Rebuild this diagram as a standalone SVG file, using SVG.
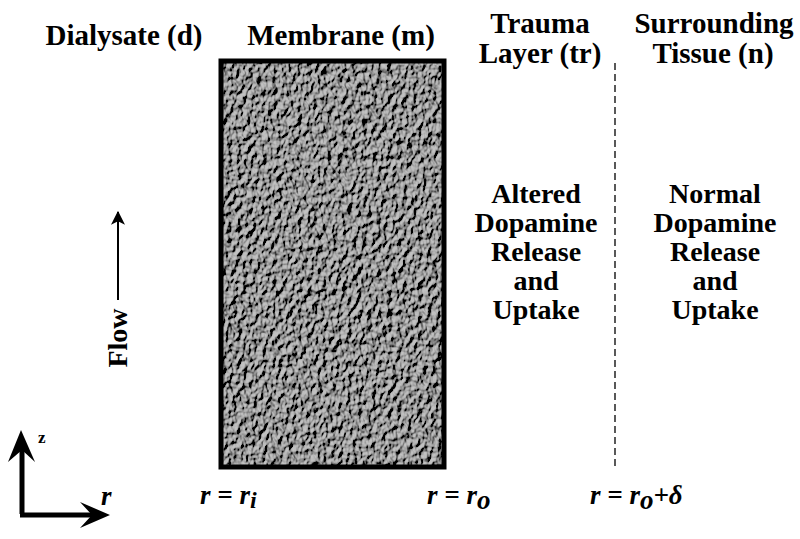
<svg xmlns="http://www.w3.org/2000/svg" width="800" height="539" viewBox="0 0 800 539">
<style>
.h{font-family:"Liberation Serif","Times New Roman",serif;font-weight:bold;font-size:29px;fill:#000;text-anchor:middle}
.b{font-family:"Liberation Serif","Times New Roman",serif;font-weight:bold;font-size:28px;fill:#000;text-anchor:middle}
.m{font-family:"Liberation Serif","Times New Roman",serif;font-weight:bold;font-style:italic;font-size:27px;fill:#000}
</style>
<defs>
<filter id="tex" x="0" y="0" width="100%" height="100%">
<feTurbulence type="fractalNoise" baseFrequency="0.2 0.14" numOctaves="2" seed="7" result="n"/>
<feColorMatrix in="n" type="matrix" values="0 0 0 0 0  0 0 0 0 0  0 0 0 0 0  1 0 0 0 0" result="a"/>
<feDiffuseLighting in="a" surfaceScale="5" lighting-color="#c4c4c4" result="l"><feDistantLight azimuth="225" elevation="45"/></feDiffuseLighting>
<feComponentTransfer in="l" result="c"><feFuncR type="linear" slope="1.2" intercept="-0.12"/><feFuncG type="linear" slope="1.2" intercept="-0.12"/><feFuncB type="linear" slope="1.2" intercept="-0.12"/></feComponentTransfer>
<feComposite in="c" in2="SourceGraphic" operator="in"/>
</filter>
<marker id="ahb" viewBox="0 0 12 12" refX="11" refY="6" markerWidth="14" markerHeight="14" markerUnits="userSpaceOnUse" orient="auto"><path d="M0,0 L12,6 L0,12 L3,6 Z" fill="#000"/></marker>
</defs>
<rect width="800" height="539" fill="#fff"/>
<g id="labels">
<text class="h" x="124" y="45">Dialysate (d)</text>
<text class="h" x="341" y="45">Membrane (m)</text>
<text class="h" x="540" y="33">Trauma</text>
<text class="h" x="540" y="63">Layer (tr)</text>
<text class="h" x="714" y="33">Surrounding</text>
<text class="h" x="713" y="63">Tissue (n)</text>
</g>
<g id="membrane">
<rect x="221" y="61" width="223" height="406" fill="#888" filter="url(#tex)"/>
<rect x="221" y="61" width="223" height="406" fill="none" stroke="#000" stroke-width="5"/>
</g>
<g id="trauma">
<text class="b" x="536" y="203">Altered</text>
<text class="b" x="536" y="232">Dopamine</text>
<text class="b" x="536" y="261">Release</text>
<text class="b" x="536" y="290">and</text>
<text class="b" x="536" y="319">Uptake</text>
</g>
<g id="tissue">
<text class="b" x="715" y="203">Normal</text>
<text class="b" x="715" y="232">Dopamine</text>
<text class="b" x="715" y="261">Release</text>
<text class="b" x="715" y="290">and</text>
<text class="b" x="715" y="319">Uptake</text>
</g>
<g id="connectors">
<line x1="615" y1="63" x2="615" y2="470" stroke="#000" stroke-width="1.3" stroke-dasharray="7,4"/>
<line x1="118" y1="300" x2="118" y2="212" stroke="#000" stroke-width="2" marker-end="url(#ahb)"/>
<path d="M22,514 L22,440" stroke="#000" stroke-width="5" fill="none"/>
<path d="M20,515 L100,515" stroke="#000" stroke-width="5" fill="none"/>
<path d="M21,430 L35,462 L22,450 L8,462 Z" fill="#000"/>
<path d="M110,515 L80,502 L92,515 L80,528 Z" fill="#000"/>
</g>
<g id="flow">
<text class="b" x="0" y="0" font-size="26" transform="translate(127,338) rotate(-90)">Flow</text>
</g>
<g id="axes-labels">
<text x="38" y="443" font-family="Liberation Serif,serif" font-weight="bold" font-size="17">z</text>
<text class="m" x="101" y="505">r</text>
<text class="m" x="200" y="504">r = r<tspan font-size="24" dy="4">i</tspan></text>
<text class="m" x="427" y="504">r = r<tspan font-size="27" dy="5">o</tspan></text>
<text class="m" x="590" y="504">r = r<tspan font-size="27" dy="5">o</tspan><tspan dy="-5">+</tspan><tspan>δ</tspan></text>
</g>
</svg>
